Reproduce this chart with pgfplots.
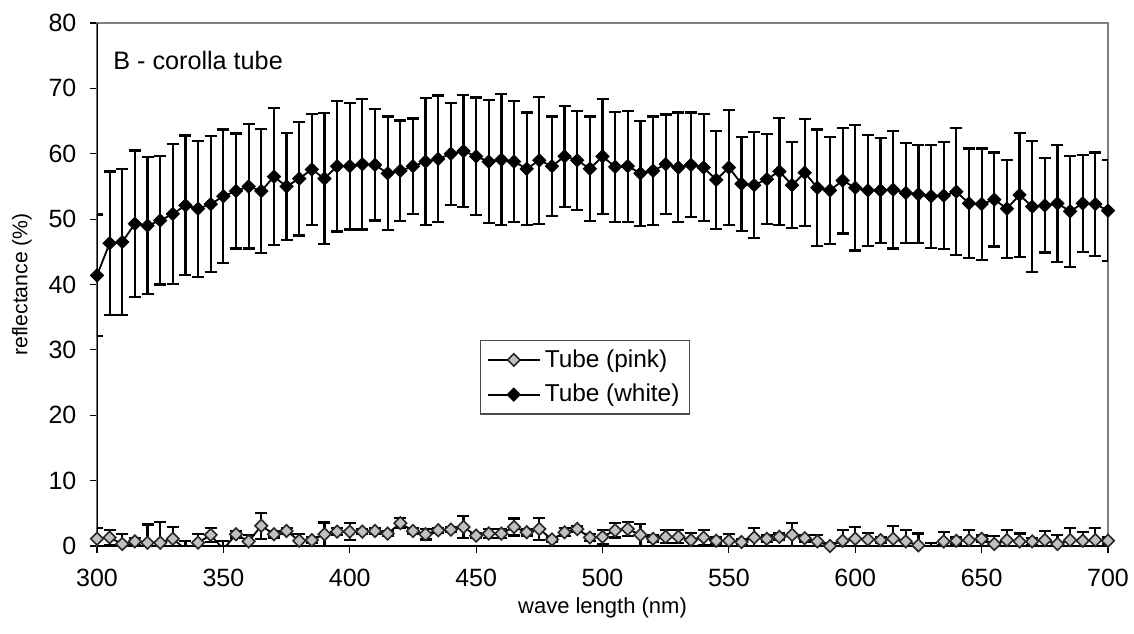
\documentclass[border=0pt]{standalone}
\usepackage{pgfplots}
\pgfplotsset{compat=1.18}
\usepackage{pgfplotstable}
\usepackage{fontspec}
\setmainfont{Liberation Sans}
\definecolor{pinkfill}{HTML}{C0C0C0}
\definecolor{framegray}{HTML}{808080}

\pgfplotstableread{
x y e
300 1.1 1.6
305 1.3 1.2
310 0.3 1.5
315 0.7 0.5
320 0.5 2.8
325 0.5 3.2
330 1.1 1.8
335 -0.5 1.3
340 0.5 1.3
345 1.7 1.1
350 -0.5 1.3
355 1.8 0.5
360 0.7 1.0
365 3.1 2.0
370 1.8 0.5
375 2.3 0.5
380 0.8 1.0
385 0.9 0.5
390 1.8 1.8
395 2.2 0.5
400 2.2 1.3
405 2.2 0.4
410 2.3 0.4
415 1.9 0.4
420 3.5 0.8
425 2.3 0.4
430 1.8 0.8
435 2.4 0.4
440 2.5 0.4
445 2.9 1.7
450 1.6 0.4
455 1.9 0.7
460 1.9 0.7
465 2.9 1.3
470 2.1 0.5
475 2.6 1.7
480 1.0 0.4
485 2.1 0.6
490 2.6 0.4
495 1.3 0.5
500 1.4 1.1
505 2.4 1.1
510 2.6 1.1
515 1.7 1.7
520 1.1 0.5
525 1.4 1.0
530 1.4 1.0
535 0.9 1.1
540 1.3 1.1
545 0.8 0.5
550 0.8 1.0
555 0.6 0.5
560 1.3 1.5
565 1.1 0.5
570 1.4 0.5
575 1.7 1.8
580 1.2 0.5
585 0.7 1.0
590 0.0 0.5
595 0.8 1.7
600 1.1 1.8
605 1.0 1.0
610 0.9 0.5
615 1.1 2.0
620 0.7 1.8
625 0.1 1.8
630 -0.5 1.0
635 0.7 1.4
640 0.8 0.5
645 0.9 1.5
650 1.1 0.5
655 0.3 1.2
660 0.9 1.6
665 0.7 1.2
670 0.7 0.5
675 0.9 1.4
680 0.3 1.4
685 0.9 1.8
690 0.8 1.4
695 0.9 1.8
700 0.8 0.5
}\pinktable

\pgfplotstableread{
x y e
300 41.4 9.3
305 46.3 11.0
310 46.5 11.2
315 49.3 11.2
320 49.0 10.5
325 49.8 9.8
330 50.8 10.7
335 52.1 10.7
340 51.6 10.4
345 52.3 10.4
350 53.5 10.2
355 54.3 8.8
360 55.0 9.5
365 54.3 9.5
370 56.5 10.5
375 55.0 8.2
380 56.2 8.7
385 57.6 8.5
390 56.2 10.0
395 58.1 10.0
400 58.1 9.7
405 58.4 10.0
410 58.3 8.5
415 57.0 8.7
420 57.4 7.7
425 58.1 7.3
430 58.8 9.7
435 59.2 9.7
440 60.0 7.8
445 60.4 8.6
450 59.6 9.0
455 58.8 9.4
460 59.1 10.0
465 58.8 9.3
470 57.7 8.6
475 59.0 9.7
480 58.1 7.6
485 59.6 7.7
490 59.0 7.6
495 57.7 8.0
500 59.6 8.8
505 58.0 8.4
510 58.1 8.5
515 57.0 8.0
520 57.4 8.3
525 58.4 7.6
530 57.9 8.4
535 58.3 8.0
540 57.9 8.2
545 56.0 7.5
550 57.9 8.8
555 55.4 7.2
560 55.2 8.1
565 56.1 6.9
570 57.3 8.2
575 55.2 6.6
580 57.1 8.2
585 54.8 8.9
590 54.4 8.2
595 55.9 8.1
600 54.8 9.6
605 54.4 8.5
610 54.4 8.0
615 54.5 9.0
620 54.0 7.7
625 53.8 7.5
630 53.5 7.9
635 53.6 8.2
640 54.2 9.7
645 52.4 8.4
650 52.3 8.5
655 53.0 7.2
660 51.6 7.5
665 53.7 9.5
670 51.9 10.0
675 52.1 7.2
680 52.4 9.0
685 51.2 8.5
690 52.4 7.4
695 52.3 7.9
700 51.3 7.7
}\whitetable

\begin{document}
\begin{tikzpicture}
\useasboundingbox (-48.5pt,-43.5pt) rectangle (518.5pt,273pt);
\begin{axis}[
  scale only axis,
  width=505.5pt, height=261.5pt,
  at={(0,0)}, anchor=south west,
  xmin=300, xmax=700, ymin=0, ymax=80,
  xtick={300,350,...,700}, ytick={0,10,...,80},
  tick pos=left, tick align=outside,
  major tick length=3.5pt,
  axis line style={draw=framegray, line width=0.6pt},
  tick style={black, line width=0.6pt},
  font=\fontsize{11}{13}\selectfont,
  /pgf/number format/assume math mode=true,
  xticklabel style={font=\fontsize{12.5}{14}\selectfont, yshift=-4.5pt},
  yticklabel style={font=\fontsize{12.5}{14}\selectfont, xshift=-3.3pt},
  every axis y label/.style={at={(axis description cs:0,0.5)}, xshift=-37.5pt, rotate=90, anchor=center, font=\fontsize{10.6}{12}\selectfont},
  every axis x label/.style={at={(axis description cs:0.5,0)}, yshift=-31pt, anchor=center, font=\fontsize{11}{13}\selectfont},
  xlabel={wave length (nm)},
  ylabel={reflectance (\%)},
  legend style={at={(axis description cs:0.379,0.394)}, anchor=north west,
    draw=black!70, line width=0.6pt, font=\fontsize{12.2}{14}\selectfont,
    inner xsep=3pt, inner ysep=2.5pt, row sep=3pt},
  legend cell align=left,
  legend image code/.code={
    \draw[mark repeat=2, mark phase=2, #1, line width=1pt] plot coordinates {(0pt,0pt) (13pt,0pt) (26pt,0pt)};
  },
  clip=true,
]
\addplot[black, line width=0.9pt,
  mark=square*, mark size=2.2pt,
  mark options={rotate=45, fill=pinkfill, draw=black!85, line width=0.8pt},
  error bars/.cd, y dir=both, y explicit,
  error bar style={black, line width=1.1pt},
  error mark options={black, mark size=3pt, line width=1.1pt, rotate=90}]
  table[x=x, y=y, y error=e] {\pinktable};
\addlegendentry{Tube (pink)}
\addplot[black, line width=0.9pt,
  mark=square*, mark size=2.3pt,
  mark options={rotate=45, fill=black, draw=black, line width=0.5pt},
  error bars/.cd, y dir=both, y explicit,
  error bar style={black, line width=1.1pt},
  error mark options={black, mark size=3pt, line width=1.1pt, rotate=90}]
  table[x=x, y=y, y error=e] {\whitetable};
\addlegendentry{Tube (white)}
\node[anchor=west, inner sep=0pt, font=\fontsize{12.6}{14}\selectfont] at (axis cs:306.3,74.3) {B - corolla tube};
\draw[black, line width=0.7pt] (rel axis cs:0,1) -- (rel axis cs:0,0) -- (rel axis cs:1,0);
\end{axis}
\end{tikzpicture}
\end{document}
